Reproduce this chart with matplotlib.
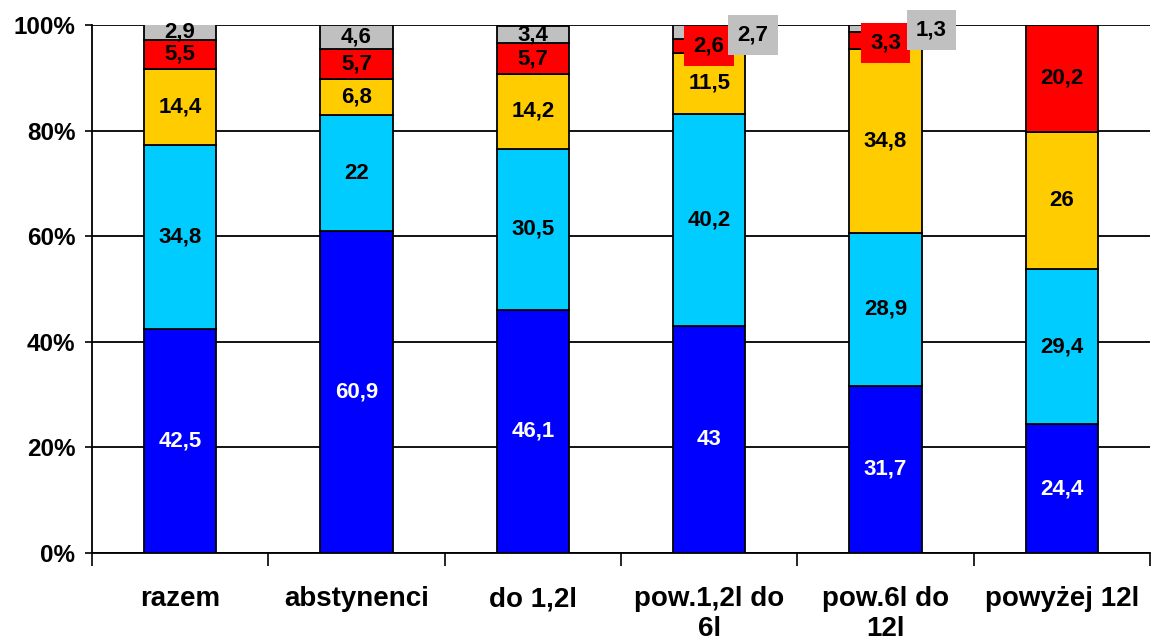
import numpy as np
import matplotlib.pyplot as plt

plt.rcParams['font.family'] = ['Liberation Sans', 'DejaVu Sans']
plt.rcParams['font.weight'] = 'bold'

categories = ['razem', 'abstynenci', 'do 1,2l', 'pow.1,2l do\n6l', 'pow.6l do\n12l', 'powyżej 12l']
seg1 = [42.5, 60.9, 46.1, 43.0, 31.7, 24.4]
seg2 = [34.8, 22.0, 30.5, 40.2, 28.9, 29.4]
seg3 = [14.4, 6.8, 14.2, 11.5, 34.8, 26.0]
seg4 = [5.5, 5.7, 5.7, 2.6, 3.3, 20.2]
seg5 = [2.9, 4.6, 3.4, 2.7, 1.3, 0.0]

series = [seg1, seg2, seg3, seg4, seg5]
colors = ['#0000FF', '#00CCFF', '#FFCC00', '#FF0000', '#C0C0C0']
text_colors = ['white', 'black', 'black', 'black', 'black']

# labels that Excel pushed into boxes (category index, series index)
boxed = {(3, 3): (0.0, 0.0), (3, 4): (0.25, -0.5),
         (4, 3): (0.0, -0.4), (4, 4): (0.26, -0.3)}

fig = plt.figure(figsize=(11.52, 6.43), dpi=100)
ax = fig.add_axes([92 / 1152, 1 - 553 / 643, (1150 - 92) / 1152, (553 - 25) / 643])

x = np.arange(len(categories))
width = 0.41
bottom = np.zeros(len(categories))

for si, vals in enumerate(series):
    vals = np.array(vals)
    ax.bar(x, vals, width, bottom=bottom, color=colors[si], edgecolor='black',
           linewidth=1.3, zorder=3)
    for ci in range(len(categories)):
        v = vals[ci]
        if v <= 0:
            continue
        lbl = ('%g' % v).replace('.', ',')
        yc = bottom[ci] + v / 2
        if (ci, si) in boxed:
            dx, dy = boxed[(ci, si)]
            ax.text(x[ci] + dx, yc + dy, lbl, ha='center', va='center', fontsize=16,
                    fontweight='bold', color='black', zorder=6, clip_on=False,
                    bbox=dict(boxstyle='square,pad=0.42', fc=colors[si], ec='none'))
        else:
            ax.text(x[ci], yc, lbl, ha='center', va='center', fontsize=16,
                    fontweight='bold', color=text_colors[si], zorder=5)
    bottom += vals

ax.set_xlim(-0.5, len(categories) - 0.5)
ax.set_ylim(0, 100)

ax.set_yticks(np.arange(0, 101, 20))
ax.set_yticklabels(['%d%%' % v for v in range(0, 101, 20)], fontsize=17.5, fontweight='bold')
ax.yaxis.grid(True, color='black', linewidth=1.3, zorder=0)
ax.set_axisbelow(True)
ax.tick_params(axis='y', direction='out', length=5, width=1.2, pad=7)

ax.set_xticks(x)
ax.set_xticklabels(categories, fontsize=20, fontweight='bold', linespacing=1.2)
ax.tick_params(axis='x', which='major', length=0, pad=24)
ax.set_xticks(np.arange(-0.5, len(categories), 1), minor=True)
ax.tick_params(axis='x', which='minor', direction='out', length=9, width=1.2)

for s in ['top', 'right']:
    ax.spines[s].set_visible(False)
for s in ['left', 'bottom']:
    ax.spines[s].set_linewidth(1.3)

fig.savefig('out.png', dpi=100)
